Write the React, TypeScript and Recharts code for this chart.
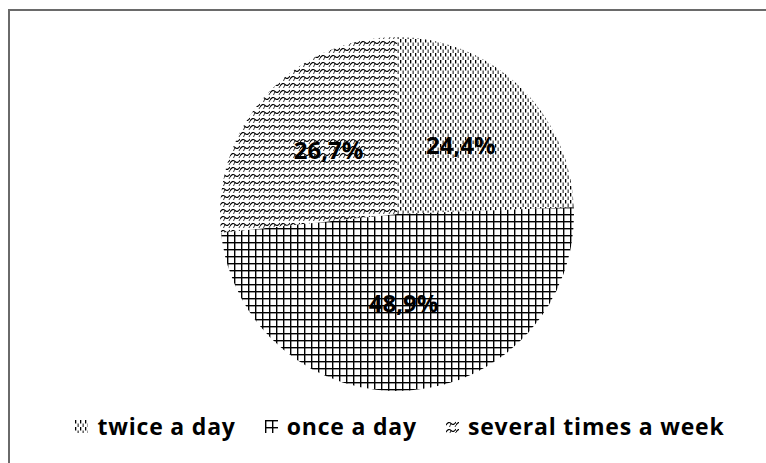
import React from "react";
import { PieChart, Pie, Cell, Legend } from "recharts";

// Share of respondents by frequency
const categories = ["twice a day", "once a day", "several times a week"];
const shares = [24.4, 48.9, 26.7];
const shareLabels = ["24,4%", "48,9%", "26,7%"];

const patternIds = ["pat-dash", "pat-grid", "pat-shingle"];

const data = categories.map((name, i) => ({ name, value: shares[i], label: shareLabels[i] }));

const FONT = "'Open Sans', Lato, sans-serif";

function Patterns() {
  return (
    <defs>
      <pattern id="pat-dash" width="5" height="7" patternUnits="userSpaceOnUse">
        <rect width="5" height="7" fill="#fff" />
        <rect x="0" y="0" width="1.3" height="3.5" fill="#000" />
        <rect x="2.5" y="3.5" width="1.3" height="3.5" fill="#444" />
      </pattern>
      <pattern id="pat-grid" width="7" height="7" patternUnits="userSpaceOnUse">
        <rect width="7" height="7" fill="#fff" />
        <rect x="0" y="0" width="1.4" height="7" fill="#000" />
        <rect x="0" y="0" width="7" height="1.4" fill="#000" />
      </pattern>
      <pattern id="pat-shingle" width="10" height="7" patternUnits="userSpaceOnUse">
        <rect width="10" height="7" fill="#fff" />
        <path d="M0,5 Q2.5,1 5,3.5 Q7.5,6 10,2" fill="none" stroke="#000" strokeWidth="1.1" />
        <path d="M5,3.5 L3.5,7" fill="none" stroke="#333" strokeWidth="1" />
        <path d="M0,5 L-1,7 M10,5 L9,7 M10,-2 L8.5,0" fill="none" stroke="#333" strokeWidth="1" />
      </pattern>
    </defs>
  );
}

const RADIAN = Math.PI / 180;

function SliceLabel(props: any) {
  const { cx, cy, midAngle, outerRadius, index } = props;
  const r = outerRadius * 0.52;
  const x = cx + r * Math.cos(-midAngle * RADIAN);
  const y = cy + r * Math.sin(-midAngle * RADIAN) - 3;
  return (
    <text
      x={x}
      y={y}
      textAnchor="middle"
      dominantBaseline="central"
      fontFamily={FONT}
      fontWeight={700}
      fontSize={24}
      fill="#000"
    >
      {data[index].label}
    </text>
  );
}

function LegendContent() {
  return (
    <div
      style={{
        display: "flex",
        justifyContent: "center",
        alignItems: "center",
        fontFamily: FONT,
        fontWeight: 700,
        fontSize: 23,
        letterSpacing: 0.8,
        color: "#000",
      }}
    >
      {categories.map((c, i) => (
        <div key={c} style={{ display: "flex", alignItems: "center", marginRight: i < categories.length - 1 ? 29 : 0 }}>
          <svg width="13" height="13" style={{ marginRight: 9 }}>
            <rect width="13" height="13" fill={`url(#${patternIds[i]})`} />
          </svg>
          <span>{c}</span>
        </div>
      ))}
    </div>
  );
}

export default function App() {
  return (
    <div
      style={{
        position: "absolute",
        left: 8,
        top: 9,
        width: 758,
        height: 454,
        borderTop: "2px solid #6a6a6a",
        borderLeft: "2px solid #6a6a6a",
        background: "#fff",
      }}
    >
      <PieChart width={756} height={452}>
        <Patterns />
        <Pie
          data={data}
          dataKey="value"
          nameKey="name"
          cx={382}
          cy={198}
          outerRadius={177}
          startAngle={90}
          endAngle={-270}
          stroke="none"
          label={SliceLabel}
          labelLine={false}
          isAnimationActive={false}
        >
          {data.map((d, i) => (
            <Cell key={d.name} fill={`url(#${patternIds[i]})`} />
          ))}
        </Pie>
        <Legend
          content={<LegendContent />}
          wrapperStyle={{ position: "absolute", top: 399, left: 12, width: 756 }}
        />
      </PieChart>
    </div>
  );
}
